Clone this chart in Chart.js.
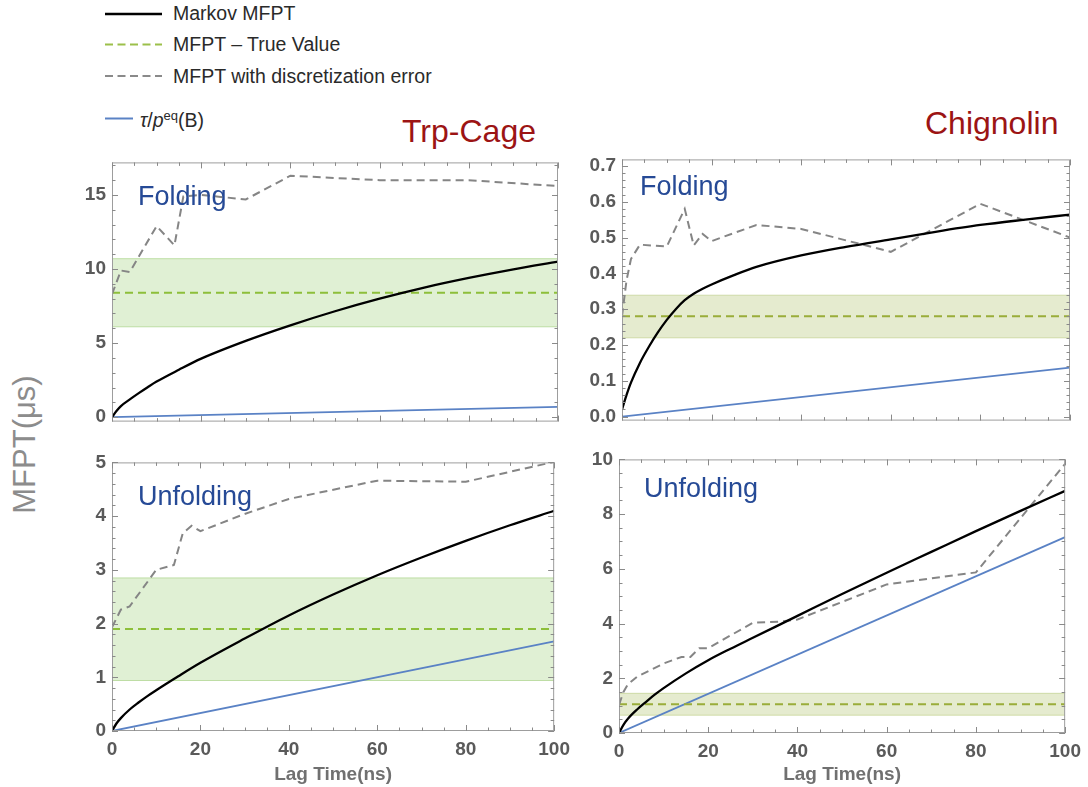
<!DOCTYPE html>
<html><head><meta charset="utf-8">
<script src="https://cdn.jsdelivr.net/npm/chart.js@4.4.1/dist/chart.umd.min.js"></script>
<style>
html,body{margin:0;padding:0;background:#fff}
body{width:1088px;height:787px;position:relative;overflow:hidden;font-family:"Liberation Sans",Arial,sans-serif}
canvas{position:absolute}
.t{position:absolute;white-space:nowrap;line-height:1}
.leg{font-size:19.5px;color:#2a2a2a}
.lab{font-size:27px;color:#264a96}
.ttl{font-size:32px;color:#9c1414}
</style></head>
<body>
<svg style="position:absolute;left:0;top:0" width="200" height="130">
  <line x1="105" y1="14" x2="162" y2="14" stroke="#000" stroke-width="2.4"/>
  <line x1="105" y1="44.5" x2="162" y2="44.5" stroke="#9cc04a" stroke-width="2.2" stroke-dasharray="8,4.5"/>
  <line x1="105" y1="76" x2="162" y2="76" stroke="#8a8a8a" stroke-width="2.2" stroke-dasharray="8,4.5"/>
  <line x1="105" y1="118.5" x2="133" y2="118.5" stroke="#5a82c5" stroke-width="2"/>
</svg>
<div class="t leg" style="left:173px;top:4px">Markov MFPT</div>
<div class="t leg" style="left:173px;top:35px">MFPT – True Value</div>
<div class="t leg" style="left:173px;top:67px">MFPT with discretization error</div>
<div class="t leg" style="left:140px;top:109px"><i>τ</i>/<i>p</i><sup style="font-size:13px;vertical-align:7px">eq</sup>(B)</div>

<div class="t ttl" style="left:402px;top:115px">Trp-Cage</div>
<div class="t ttl" style="left:925px;top:107px">Chignolin</div>

<div class="t" style="left:-76px;top:429px;width:200px;text-align:center;font-size:31px;color:#8c8c8c;transform:rotate(-90deg)">MFPT(μs)</div>

<canvas id="tl" width="516" height="294" style="left:52px;top:145px"></canvas>
<canvas id="tr" width="518" height="296" style="left:562px;top:142px"></canvas>
<canvas id="bl" width="525" height="342" style="left:52px;top:445px"></canvas>
<canvas id="br" width="529" height="345" style="left:559px;top:442px"></canvas>

<div class="t lab" style="left:138px;top:183px">Folding</div>
<div class="t lab" style="left:640px;top:173px">Folding</div>
<div class="t lab" style="left:138px;top:483px">Unfolding</div>
<div class="t lab" style="left:644px;top:475px">Unfolding</div>

<script>
// ---------- shared ----------
const xRange = [0, 100];
const xTicks = [0, 20, 40, 60, 80, 100];
const xTitle = 'Lag Time(ns)';

// ---------- Trp-Cage, Folding ----------
const tlMarkovX = [0, 1, 2, 4, 6, 8, 10, 15, 20, 30, 40, 50, 60, 70, 80, 90, 100];
const tlMarkovY = [0, 0.42, 0.75, 1.2, 1.62, 2.02, 2.4, 3.2, 3.95, 5.15, 6.2, 7.15, 8.0, 8.75, 9.4, 9.98, 10.5];
const tlDiscX = [0, 2, 4, 10, 14, 16, 20, 30, 40, 60, 80, 100];
const tlDiscY = [8.3, 9.9, 9.8, 12.9, 11.6, 14.9, 15.0, 14.7, 16.3, 16.0, 16.0, 15.6];
const tlTrue = 8.4;
const tlBand = [6.1, 10.7];
const tlTauX = [0, 100];
const tlTauY = [0, 0.7];
const tlYRange = [-0.3, 17.2];
const tlYTicks = [0, 5, 10, 15];
const tlYLabels = ['0', '5', '10', '15'];

// ---------- Chignolin, Folding ----------
const trMarkovX = [0, 1, 2, 4, 6, 8, 10, 12, 14, 16, 18, 20, 25, 30, 40, 50, 60, 70, 80, 90, 100];
const trMarkovY = [0.02, 0.06, 0.095, 0.15, 0.195, 0.235, 0.27, 0.30, 0.325, 0.343, 0.357, 0.369, 0.395, 0.418, 0.45, 0.474, 0.495, 0.516, 0.535, 0.55, 0.564];
const trDiscX = [0, 1, 2, 4, 10, 14, 16, 18, 20, 30, 40, 60, 80, 100];
const trDiscY = [0.28, 0.38, 0.44, 0.48, 0.475, 0.58, 0.478, 0.51, 0.49, 0.535, 0.524, 0.46, 0.594, 0.5];
const trTrue = 0.28;
const trBand = [0.22, 0.339];
const trTauX = [0, 100];
const trTauY = [0, 0.137];
const trYRange = [-0.011, 0.718];
const trYTicks = [0, 0.1, 0.2, 0.3, 0.4, 0.5, 0.6, 0.7];
const trYLabels = ['0.0', '0.1', '0.2', '0.3', '0.4', '0.5', '0.6', '0.7'];

// ---------- Trp-Cage, Unfolding ----------
const blMarkovX = [0, 1, 2, 4, 6, 8, 10, 15, 20, 30, 40, 50, 60, 70, 80, 90, 100];
const blMarkovY = [0, 0.14, 0.24, 0.4, 0.53, 0.65, 0.76, 1.02, 1.27, 1.72, 2.15, 2.54, 2.9, 3.23, 3.54, 3.83, 4.1];
const blDiscX = [0, 2, 4, 10, 14, 16, 18, 20, 30, 40, 60, 80, 100];
const blDiscY = [1.93, 2.26, 2.32, 3.0, 3.09, 3.68, 3.82, 3.72, 4.04, 4.32, 4.66, 4.64, 5.01];
const blTrue = 1.9;
const blBand = [0.94, 2.85];
const blTauX = [0, 100];
const blTauY = [0, 1.67];
const blYRange = [0, 5];
const blYTicks = [0, 1, 2, 3, 4, 5];
const blYLabels = ['0', '1', '2', '3', '4', '5'];

// ---------- Chignolin, Unfolding ----------
const brMarkovX = [0, 1, 2, 4, 6, 8, 10, 15, 20, 25, 30, 40, 50, 60, 70, 80, 90, 100];
const brMarkovY = [0, 0.3, 0.52, 0.85, 1.13, 1.4, 1.64, 2.18, 2.66, 3.08, 3.48, 4.28, 5.08, 5.86, 6.62, 7.38, 8.12, 8.85];
const brDiscX = [0, 1, 2, 4, 10, 14, 16, 18, 20, 30, 36, 40, 60, 80, 100];
const brDiscY = [1.03, 1.5, 1.78, 2.05, 2.54, 2.78, 2.78, 3.1, 3.1, 4.03, 4.07, 4.15, 5.43, 5.87, 9.84];
const brTrue = 1.05;
const brBand = [0.65, 1.45];
const brTauX = [0, 100];
const brTauY = [0, 7.16];
const brYRange = [0, 10];
const brYTicks = [0, 2, 4, 6, 8, 10];
const brYLabels = ['0', '2', '4', '6', '8', '10'];

// ---------- helpers ----------
function pts(xs, ys) { return xs.map((x, i) => ({ x: x, y: ys[i] })); }
function flat(v) { return xRange.map(x => ({ x: x, y: v })); }

const framePlugin = {
  id: 'frame',
  afterDatasetsDraw(chart, args, o) {
    const ctx = chart.ctx, a = chart.chartArea, xs = chart.scales.x, ys = chart.scales.y;
    ctx.save();
    ctx.lineWidth = 1;
    ctx.strokeStyle = '#9d9d9d';
    ctx.strokeRect(a.left + 0.5, a.top + 0.5, a.right - a.left - 1, a.bottom - a.top - 1);
    ctx.strokeStyle = '#8a8a8a';
    function seg(x1, y1, x2, y2) { ctx.beginPath(); ctx.moveTo(x1, y1); ctx.lineTo(x2, y2); ctx.stroke(); }
    function loop(scale, minor, major, cb) {
      const start = Math.ceil(scale.min / minor - 1e-9);
      const end = Math.floor(scale.max / minor + 1e-9);
      for (let k = start; k <= end; k++) {
        const v = k * minor;
        const r = v / major;
        const isMajor = Math.abs(r - Math.round(r)) < 1e-6;
        cb(v, isMajor ? 6 : 3.5);
      }
    }
    loop(xs, o.xMinor, o.xMajor, (v, len) => {
      const p = Math.round(xs.getPixelForValue(v)) + 0.5;
      seg(p, a.bottom, p, a.bottom - len);
      seg(p, a.top, p, a.top + len);
    });
    loop(ys, o.yMinor, o.yMajor, (v, len) => {
      const p = Math.round(ys.getPixelForValue(v)) + 0.5;
      seg(a.left, p, a.left + len, p);
      seg(a.right, p, a.right - len, p);
    });
    ctx.restore();
  }
};

const tickFont = { family: 'Liberation Sans', size: 19, weight: 'bold' };
const tickColor = '#5a5a5a';

function makePanel(id, d) {
  const datasets = [
    { data: pts(d.markovX, d.markovY), borderColor: '#000', borderWidth: 2.3, pointRadius: 0, cubicInterpolationMode: 'monotone', order: 1, fill: false },
    { data: pts(d.discX, d.discY), borderColor: '#858585', borderWidth: 2, borderDash: [8, 5], pointRadius: 0, tension: 0, order: 2, fill: false },
    { data: flat(d.trueV), borderColor: d.green, borderWidth: 2, borderDash: [8, 5], pointRadius: 0, order: 3, fill: false },
    { data: pts(d.tauX, d.tauY), borderColor: '#5a82c5', borderWidth: 1.8, pointRadius: 0, order: 4, fill: false },
    { data: flat(d.band[1]), borderColor: d.bandEdge, borderWidth: 1, pointRadius: 0, order: 5, fill: false },
    { data: flat(d.band[0]), borderColor: d.bandEdge, borderWidth: 1, pointRadius: 0, order: 6, fill: '-1', backgroundColor: d.bandFill }
  ];
  return new Chart(document.getElementById(id), {
    type: 'line',
    data: { datasets: datasets },
    options: {
      responsive: false, animation: false, events: [],
      layout: { padding: d.pad },
      plugins: { legend: { display: false }, tooltip: { enabled: false }, frame: d.frame },
      scales: {
        x: {
          type: 'linear', min: xRange[0], max: xRange[1], display: d.showX,
          grid: { display: false, drawTicks: false }, border: { display: false },
          afterBuildTicks: s => { s.ticks = xTicks.map(v => ({ value: v })); },
          ticks: { font: tickFont, color: tickColor, padding: 7, maxRotation: 0, autoSkip: false, callback: v => String(v) },
          title: { display: true, text: xTitle, color: '#707070', font: { family: 'Liberation Sans', size: 19, weight: 'bold' }, padding: { top: 0, bottom: 1 } },
          afterFit: s => { s.height = d.xH; }
        },
        y: {
          type: 'linear', min: d.yRange[0], max: d.yRange[1],
          grid: { display: false, drawTicks: false }, border: { display: false },
          afterBuildTicks: s => { s.ticks = d.yTicks.map(v => ({ value: v })); },
          ticks: { font: tickFont, color: tickColor, padding: 6, autoSkip: false, callback: (v, i) => d.yLabels[i] },
          afterFit: s => { s.width = 60; }
        }
      }
    },
    plugins: [framePlugin]
  });
}

const trpGreen = '#8dbf3a', trpEdge = 'rgba(150,200,110,0.55)', trpFill = 'rgba(160,208,120,0.32)';
const chiGreen = '#9aad3a', chiEdge = 'rgba(175,195,110,0.5)', chiFill = 'rgba(175,195,110,0.33)';

makePanel('tl', { markovX: tlMarkovX, markovY: tlMarkovY, discX: tlDiscX, discY: tlDiscY, trueV: tlTrue, band: tlBand,
  tauX: tlTauX, tauY: tlTauY, yRange: tlYRange, yTicks: tlYTicks, yLabels: tlYLabels,
  green: trpGreen, bandEdge: trpEdge, bandFill: trpFill, showX: false, xH: 0,
  pad: { top: 10, right: 10, bottom: 10, left: 0 }, frame: { xMinor: 5, xMajor: 20, yMinor: 1, yMajor: 5 } });

makePanel('tr', { markovX: trMarkovX, markovY: trMarkovY, discX: trDiscX, discY: trDiscY, trueV: trTrue, band: trBand,
  tauX: trTauX, tauY: trTauY, yRange: trYRange, yTicks: trYTicks, yLabels: trYLabels,
  green: chiGreen, bandEdge: chiEdge, bandFill: chiFill, showX: false, xH: 0,
  pad: { top: 10, right: 10, bottom: 10, left: 0 }, frame: { xMinor: 5, xMajor: 20, yMinor: 0.02, yMajor: 0.1 } });

makePanel('bl', { markovX: blMarkovX, markovY: blMarkovY, discX: blDiscX, discY: blDiscY, trueV: blTrue, band: blBand,
  tauX: blTauX, tauY: blTauY, yRange: blYRange, yTicks: blYTicks, yLabels: blYLabels,
  green: trpGreen, bandEdge: trpEdge, bandFill: trpFill, showX: true, xH: 56,
  pad: { top: 10, right: 20, bottom: 0, left: 0 }, frame: { xMinor: 5, xMajor: 20, yMinor: 0.2, yMajor: 1 } });

makePanel('br', { markovX: brMarkovX, markovY: brMarkovY, discX: brDiscX, discY: brDiscY, trueV: brTrue, band: brBand,
  tauX: brTauX, tauY: brTauY, yRange: brYRange, yTicks: brYTicks, yLabels: brYLabels,
  green: chiGreen, bandEdge: chiEdge, bandFill: chiFill, showX: true, xH: 54,
  pad: { top: 12, right: 18, bottom: 0, left: 0 }, frame: { xMinor: 5, xMajor: 20, yMinor: 0.5, yMajor: 2 } });
</script>
</body></html>
